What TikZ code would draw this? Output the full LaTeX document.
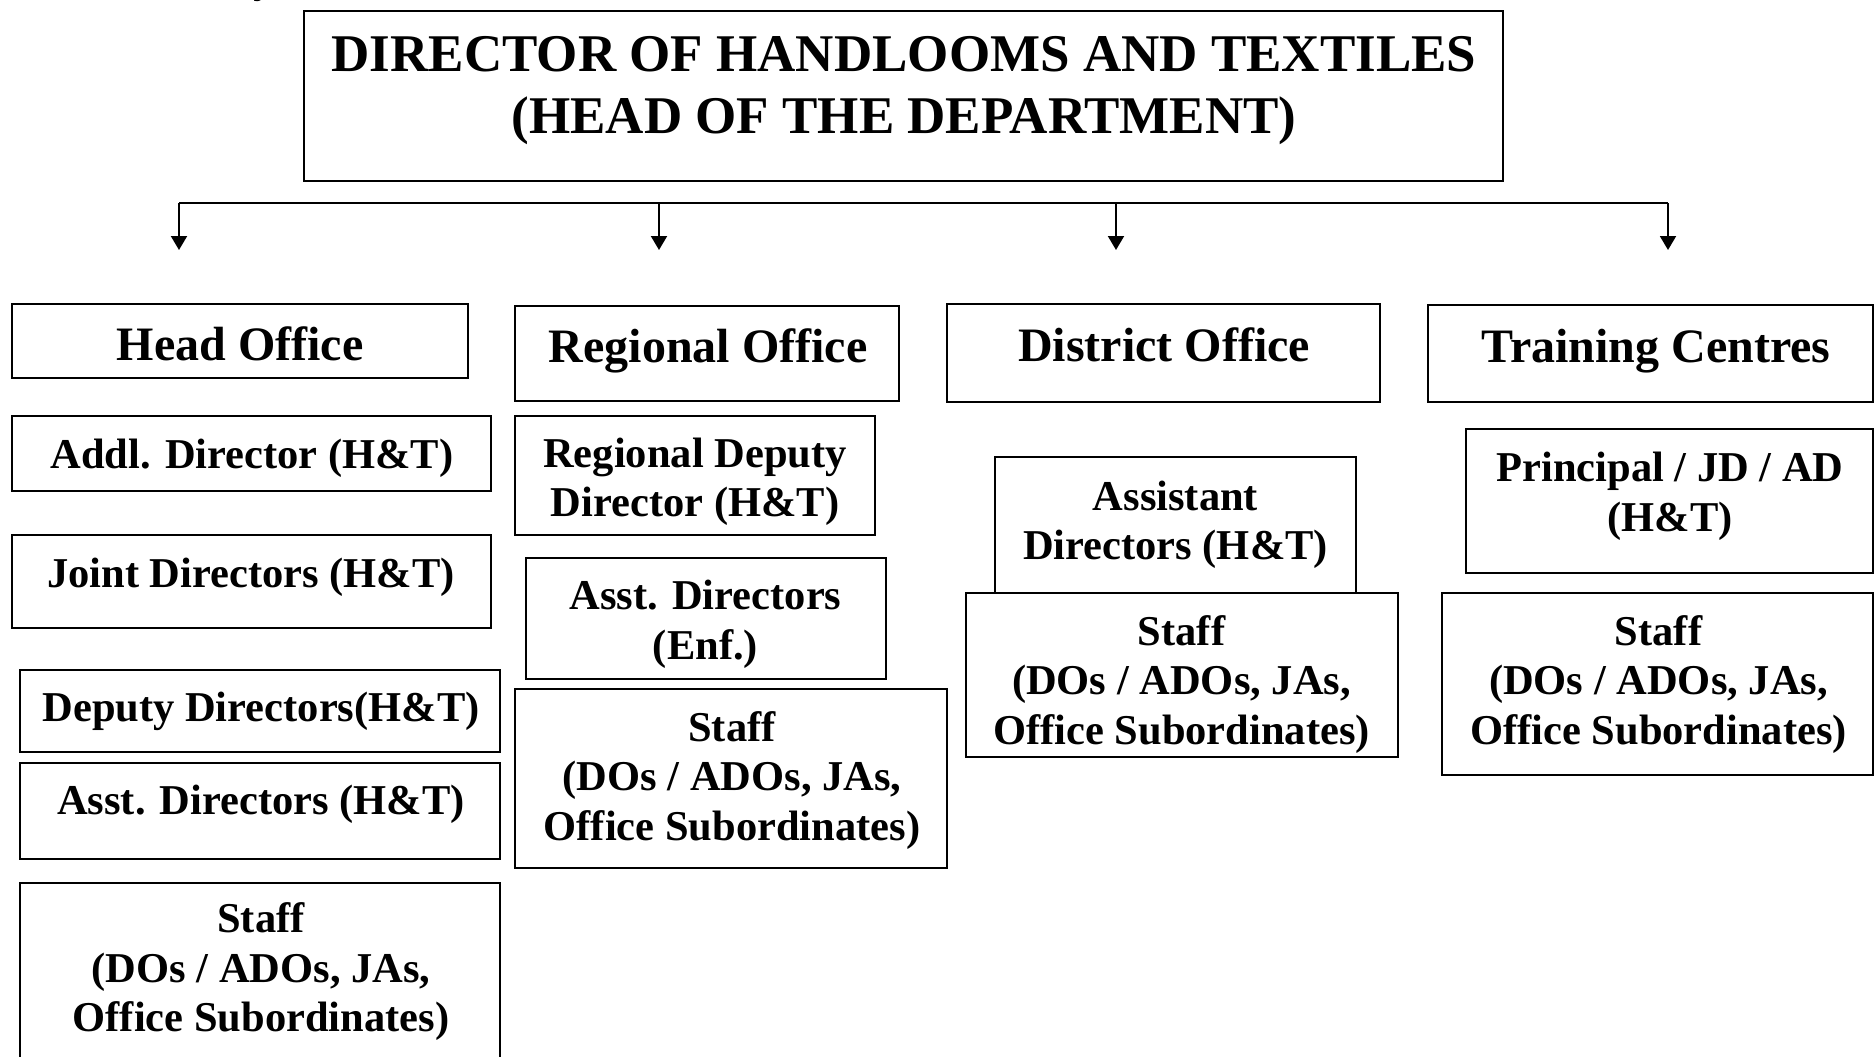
\documentclass[tikz,border=0pt]{standalone}
\usepackage{fontspec}
\setmainfont{Liberation Serif}
\usetikzlibrary{arrows.meta}
\tikzset{
  box/.style={draw=black, line width=2pt, rectangle, inner sep=0pt},
  lbl/.style={align=center, inner sep=0pt, font=\bfseries\fontsize{42.5}{49.5}\selectfont},
  headlbl/.style={align=center, inner sep=0pt, font=\bfseries\fontsize{48}{56}\selectfont},
  ttl/.style={align=center, inner sep=0pt, font=\bfseries\fontsize{53}{62}\selectfont},
  bar/.style={line width=2pt},
  conn/.style={line width=2pt, -{Triangle[length=14pt,width=16pt]}},
}
\begin{document}
\begin{tikzpicture}[x=1pt,y=-1pt]
\useasboundingbox (0,0) rectangle (1875,1057);
% fragment of text above
\node[lbl, anchor=base] (frag) at (264,-7) {y};
% top box
\node[box, minimum width=1199pt, minimum height=170pt] (top) at (903.5,96) {};
\node[ttl] (topT) at (904,91) {DIRECTOR OF HANDLOOMS AND TEXTILES\\(HEAD OF THE DEPARTMENT)};
% connectors
\coordinate (b1) at (179,203);
\coordinate (b2) at (659,203);
\coordinate (b3) at (1116,203);
\coordinate (b4) at (1668,203);
\coordinate (e1) at (179,250);
\coordinate (e2) at (659,250);
\coordinate (e3) at (1116,250);
\coordinate (e4) at (1668,250);
\draw[bar] (b1) -- (b4);
\draw[conn] (b1) -- (e1);
\draw[conn] (b2) -- (e2);
\draw[conn] (b3) -- (e3);
\draw[conn] (b4) -- (e4);
% column headings
\node[box, minimum width=456pt, minimum height=74pt] (ho) at (240,341) {};
\node[headlbl] (hoT) at (240,344) {Head Office};
\node[box, minimum width=384pt, minimum height=95pt] (ro) at (707,353.5) {};
\node[headlbl] (roT) at (708,351) {Regional Office};
\node[box, minimum width=433pt, minimum height=98pt] (do) at (1163.5,353) {};
\node[headlbl] (doT) at (1164,345) {District Office};
\node[box, minimum width=445pt, minimum height=97pt] (tc) at (1650.5,353.5) {};
\node[headlbl] (tcT) at (1656,351) {Training Centres};
% head office column
\node[box, minimum width=479pt, minimum height=75pt] (hA) at (251.5,453.5) {};
\node[lbl] (hAT) at (252,458.5) {Addl. Director (H\&T)};
\node[box, minimum width=479pt, minimum height=93pt] (hJ) at (251.5,581.5) {};
\node[lbl] (hJT) at (251,577.5) {Joint Directors (H\&T)};
\node[box, minimum width=480pt, minimum height=82pt] (hD) at (260,711) {};
\node[lbl] (hDT) at (261,711.5) {Deputy Directors(H\&T)};
\node[box, minimum width=480pt, minimum height=96pt] (hS) at (260,811) {};
\node[lbl] (hST) at (261,804.5) {Asst. Directors (H\&T)};
\node[box, minimum width=480pt, minimum height=202pt] (hF) at (260,984) {};
\node[lbl] (hFT) at (261,972) {Staff\\(DOs / ADOs, JAs,\\Office Subordinates)};
% regional column
\node[box, minimum width=360pt, minimum height=119pt] (rD) at (695,475.5) {};
\node[lbl] (rDT) at (695,482) {Regional Deputy\\Director (H\&T)};
\node[box, minimum width=360pt, minimum height=121pt] (rA) at (706,618.5) {};
\node[lbl] (rAT) at (705.5,624.5) {Asst. Directors\\(Enf.)};
\node[box, minimum width=432pt, minimum height=179pt] (rF) at (731,778.5) {};
\node[lbl] (rFT) at (732,780.5) {Staff\\(DOs / ADOs, JAs,\\Office Subordinates)};
% district column
\node[box, minimum width=361pt, minimum height=136pt] (dA) at (1175.5,525) {};
\node[lbl] (dAT) at (1175.5,525) {Assistant\\Directors (H\&T)};
\node[box, minimum width=432pt, minimum height=164pt] (dF) at (1182,675) {};
\node[lbl] (dFT) at (1181.5,684.5) {Staff\\(DOs / ADOs, JAs,\\Office Subordinates)};
% training column
\node[box, minimum width=407pt, minimum height=144pt] (tP) at (1669.5,501) {};
\node[lbl] (tPT) at (1670,496.5) {Principal / JD / AD\\(H\&T)};
\node[box, minimum width=431pt, minimum height=182pt] (tF) at (1657.5,684) {};
\node[lbl] (tFT) at (1658.5,684.5) {Staff\\(DOs / ADOs, JAs,\\Office Subordinates)};
\end{tikzpicture}
\end{document}
